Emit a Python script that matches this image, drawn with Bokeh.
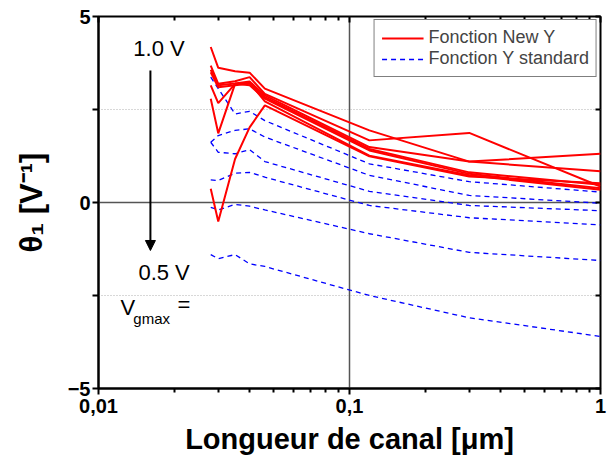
from bokeh.plotting import figure
from bokeh.models import (Range1d, FixedTicker, LinearAxis, LogAxis, CustomJSTickFormatter,
                          Span, Label, Arrow, NormalHead, Legend, LegendItem)
from bokeh.embed import file_html
from bokeh.resources import INLINE

# ---------------- data ----------------
length_um = [0.028, 0.03, 0.035, 0.04, 0.046, 0.12, 0.3, 1.0]

new_y_1 = [4.18, 3.62, 3.53, 3.49, 3.06, 1.94, 1.10, 1.31]
new_y_2 = [3.68, 3.19, 3.26, 3.37, 2.92, 1.67, 1.87, 0.43]
new_y_3 = [3.57, 3.15, 3.20, 3.25, 2.88, 1.49, 1.10, 0.84]
new_y_4 = [3.50, 3.10, 3.15, 3.20, 2.83, 1.44, 0.81, 0.48]
new_y_5 = [3.15, 2.67, 3.19, 3.15, 2.79, 1.40, 0.77, 0.38]
new_y_6 = [2.79, 1.86, 3.19, 3.22, 2.72, 1.26, 0.73, 0.34]
new_y_7 = [0.37, -0.51, 1.17, 2.02, 2.61, 1.24, 0.70, 0.52]

std_y_1 = [3.37, 3.06, 2.38, 2.45, 2.20, 1.04, 0.56, 0.28]
std_y_2 = [1.62, 1.80, 1.94, 1.98, 1.76, 0.73, 0.19, -0.02]
std_y_3 = [1.62, 1.35, 1.31, 1.42, 1.10, 0.30, -0.08, -0.22]
std_y_4 = [0.61, 0.59, 0.79, 0.81, 0.68, -0.08, -0.41, -0.60]
std_y_5 = [-0.13, -0.20, -0.05, -0.10, -0.20, -0.84, -1.34, -1.56]
std_y_6 = [-1.40, -1.51, -1.40, -1.65, -1.72, -2.50, -3.10, -3.60]

new_y_series = [new_y_1, new_y_2, new_y_3, new_y_4, new_y_5, new_y_6, new_y_7]
std_y_series = [std_y_1, std_y_2, std_y_3, std_y_4, std_y_5, std_y_6]

x_major_ticks = [0.01, 0.1, 1.0]
x_minor_ticks = [0.02, 0.03, 0.04, 0.05, 0.06, 0.07, 0.08, 0.09,
                 0.2, 0.3, 0.4, 0.5, 0.6, 0.7, 0.8, 0.9]
y_major_ticks = [-5, 0, 5]
y_minor_ticks = [-2.5, 2.5]
y_all_ticks = [-5, -2.5, 0, 2.5, 5]

FONT = "Liberation Sans"

# ---------------- figure ----------------
p = figure(width=610, height=467, x_axis_type="log",
           x_range=Range1d(0.01, 1.0), y_range=Range1d(-5, 5),
           output_backend="svg", toolbar_location=None,
           min_border_left=98, min_border_right=10, min_border_top=16, min_border_bottom=79)
p.grid.visible = False
p.outline_line_color = "black"
p.outline_line_width = 2
p.background_fill_color = "white"
p.border_fill_color = "white"

# bottom axis
xa = p.xaxis[0]
xa.ticker = FixedTicker(ticks=x_major_ticks, minor_ticks=x_minor_ticks)
xa.formatter = CustomJSTickFormatter(code="return tick.toString().replace('.', ',');")
xa.axis_line_width = 2
xa.major_tick_line_width = 2
xa.minor_tick_line_width = 2
xa.major_tick_in = 0
xa.major_tick_out = 6
xa.minor_tick_in = 0
xa.minor_tick_out = 4
xa.major_label_standoff = 4
xa.major_label_text_font = FONT
xa.major_label_text_font_style = "bold"
xa.major_label_text_font_size = "20px"
xa.major_label_text_color = "black"
xa.axis_label = "Longueur de canal [\u03bcm]"
xa.axis_label_text_font = FONT
xa.axis_label_text_font_style = "bold"
xa.axis_label_text_font_size = "29px"
xa.axis_label_text_color = "black"
xa.axis_label_standoff = 7

# left axis
ya = p.yaxis[0]
ya.ticker = FixedTicker(ticks=y_major_ticks, minor_ticks=y_minor_ticks)
ya.axis_line_width = 2
ya.major_tick_line_width = 2
ya.minor_tick_line_width = 2
ya.major_tick_in = 0
ya.major_tick_out = 6
ya.minor_tick_in = 0
ya.minor_tick_out = 6
ya.major_label_standoff = 2
ya.major_label_text_font = FONT
ya.major_label_text_font_style = "bold"
ya.major_label_text_font_size = "20px"
ya.major_label_text_color = "black"
ya.axis_label = "\u03b8\u2081 [V\u207b\u00b9]"
ya.axis_label_text_font = FONT
ya.axis_label_text_font_style = "bold"
ya.axis_label_text_font_size = "31px"
ya.axis_label_text_color = "black"
ya.axis_label_standoff = 16

# top axis (ticks only, inside)
top_ax = LogAxis(ticker=FixedTicker(ticks=x_major_ticks, minor_ticks=x_minor_ticks),
                 formatter=CustomJSTickFormatter(code="return '';"),
                 axis_line_color=None, major_tick_in=6, major_tick_out=0,
                 minor_tick_in=4, minor_tick_out=0, major_tick_line_width=2,
                 minor_tick_line_width=2, major_label_standoff=0,
                 major_label_text_font_size="1px")
p.add_layout(top_ax, "above")

# right axis (ticks only, inside)
right_ax = LinearAxis(ticker=FixedTicker(ticks=y_all_ticks),
                      formatter=CustomJSTickFormatter(code="return '';"),
                      axis_line_color=None, major_tick_in=5, major_tick_out=0,
                      minor_tick_in=0, minor_tick_out=0, major_tick_line_width=2,
                      major_label_standoff=0, major_label_text_font_size="1px")
p.add_layout(right_ax, "right")

# reference lines
p.add_layout(Span(location=0, dimension="width", line_color="#555555", line_width=1.5, level="underlay"))
p.add_layout(Span(location=0.1, dimension="height", line_color="#555555", line_width=1.5, level="underlay"))
p.add_layout(Span(location=2.5, dimension="width", line_color="#b0b0b0", line_width=1, line_dash="1 2", level="underlay"))
p.add_layout(Span(location=-2.5, dimension="width", line_color="#b0b0b0", line_width=1, line_dash="1 2", level="underlay"))

# data lines
blue_r = p.multi_line(xs=[length_um] * len(std_y_series), ys=std_y_series,
                      line_color="#0000ff", line_width=1.3, line_dash="5 4")
red_r = p.multi_line(xs=[length_um] * len(new_y_series), ys=new_y_series,
                     line_color="#ff0000", line_width=2)

# legend
legend = Legend(items=[LegendItem(label="Fonction New Y", renderers=[red_r]),
                       LegendItem(label="Fonction Y standard", renderers=[blue_r])],
                location="top_right", border_line_color="black", border_line_width=1,
                label_text_font=FONT, label_text_font_size="18px",
                glyph_width=42, glyph_height=18, label_height=18, spacing=0,
                padding=7, margin=3, label_standoff=5, background_fill_alpha=1)
p.add_layout(legend)

# annotations
p.add_layout(Label(x=0.01377, y=4.13, text="1.0 V", text_font=FONT, text_font_size="22px",
                   text_baseline="middle", text_align="left", text_color="black"))
p.add_layout(Label(x=0.01442, y=-1.88, text="0.5 V", text_font=FONT, text_font_size="22px",
                   text_baseline="middle", text_align="left", text_color="black"))
p.add_layout(Label(x=0.01224, y=-2.82, text="V", text_font=FONT, text_font_size="22px",
                   text_baseline="middle", text_align="left", text_color="black"))
p.add_layout(Label(x=0.01377, y=-3.12, text="gmax", text_font=FONT, text_font_size="15px",
                   text_baseline="middle", text_align="left", text_color="black"))
p.add_layout(Label(x=0.02064, y=-2.74, text="=", text_font=FONT, text_font_size="22px",
                   text_baseline="middle", text_align="left", text_color="black"))
p.add_layout(Arrow(x_start=0.0161, y_start=3.55, x_end=0.0161, y_end=-1.29,
                   line_width=2, line_color="black",
                   end=NormalHead(size=10, fill_color="black", line_color="black")))

open("out.html", "w").write(file_html(p, INLINE))
